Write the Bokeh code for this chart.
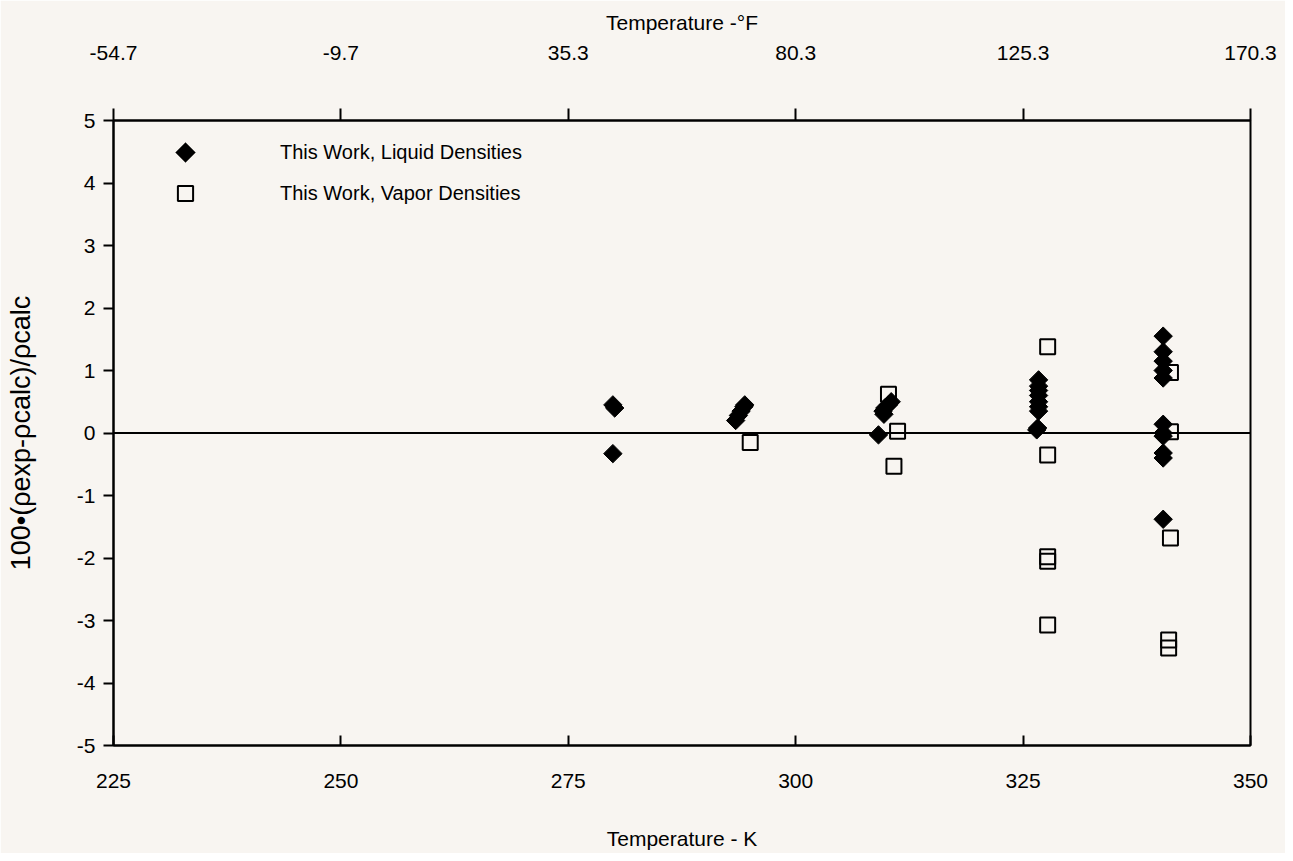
import math
from bokeh.plotting import figure
from bokeh.models import (LinearAxis, FixedTicker, Span, Legend, LegendItem, Range1d,
                          PolyAnnotation)
from bokeh.embed import file_html
from bokeh.resources import INLINE

# ---- data ----
liq_T = [279.9, 280.1, 279.9,
         293.4, 293.7, 294.0, 294.3, 294.4,
         309.1, 309.6, 309.7, 309.8, 310.2, 310.5,
         326.7, 326.7, 326.7, 326.7, 326.7, 326.7, 326.7, 326.6, 326.5,
         340.4, 340.4, 340.4, 340.4, 340.4, 340.4, 340.4, 340.4, 340.4, 340.4, 340.4]
liq_dev = [0.45, 0.40, -0.33,
           0.20, 0.28, 0.35, 0.42, 0.45,
           -0.03, 0.35, 0.30, 0.40, 0.45, 0.50,
           0.85, 0.75, 0.68, 0.60, 0.50, 0.42, 0.35, 0.08, 0.05,
           1.55, 1.30, 1.15, 1.00, 0.88, 0.14, 0.00, -0.05, -0.32, -0.40, -1.38]

vap_T = [295.0,
         310.2, 311.2, 310.8,
         327.7, 327.7, 327.7, 327.7, 327.7,
         341.2, 341.2, 341.2, 341.0, 341.0]
vap_dev = [-0.15,
           0.62, 0.03, -0.53,
           1.38, -0.35, -1.98, -2.05, -3.07,
           0.97, 0.02, -1.68, -3.31, -3.44]

k_ticks = [225, 250, 275, 300, 325, 350]
f_labels = ["-54.7", "-9.7", "35.3", "80.3", "125.3", "170.3"]
y_ticks = [-5, -4, -3, -2, -1, 0, 1, 2, 3, 4, 5]

FONT = "Liberation Sans"
FS = "21px"
BG = "#f8f5f1"

p = figure(width=1285, height=853, output_backend="svg", toolbar_location=None,
           x_range=Range1d(225, 350), y_range=Range1d(-5, 5),
           x_axis_location=None, y_axis_location=None,
           min_border_left=113, min_border_right=35, min_border_top=120, min_border_bottom=108)
p.background_fill_color = BG
p.border_fill_color = BG
p.outline_line_color = "black"
p.outline_line_width = 2
p.grid.visible = False

def style(ax, lab_size=FS):
    ax.major_label_text_font = FONT
    ax.major_label_text_font_size = FS
    ax.major_label_text_color = "black"
    ax.axis_label_text_font = FONT
    ax.axis_label_text_font_size = lab_size
    ax.axis_label_text_font_style = "normal"
    ax.axis_label_text_color = "black"
    ax.axis_line_color = "black"
    ax.axis_line_width = 2
    ax.major_tick_line_color = "black"
    ax.major_tick_line_width = 2
    ax.minor_tick_line_color = None

# bottom axis (K)
xb = LinearAxis(ticker=FixedTicker(ticks=k_ticks), axis_label="Temperature - K")
style(xb)
xb.major_tick_in = 10
xb.major_tick_out = 0
xb.major_label_standoff = 28
xb.axis_label_standoff = 36
xb.major_label_overrides = {t: str(t) for t in k_ticks}
p.add_layout(xb, "below")

# top axis (°F)
xt = LinearAxis(ticker=FixedTicker(ticks=k_ticks), axis_label="Temperature -°F")
style(xt)
xt.major_tick_in = 0
xt.major_tick_out = 12
xt.major_label_standoff = 49
xt.axis_label_standoff = 9
xt.major_label_overrides = {t: l for t, l in zip(k_ticks, f_labels)}
p.add_layout(xt, "above")

# left axis
yl = LinearAxis(ticker=FixedTicker(ticks=y_ticks), axis_label="100•(ρexp-ρcalc)/ρcalc")
style(yl, "27px")
yl.major_tick_in = 0
yl.major_tick_out = 10
yl.major_label_standoff = 8
yl.axis_label_standoff = 38
yl.major_label_overrides = {t: str(t) for t in y_ticks}
p.add_layout(yl, "left")

# zero line
p.add_layout(Span(location=0, dimension="width", line_color="black", line_width=2))

r_liq = p.scatter(liq_T, liq_dev, marker="square", angle=math.pi / 4, size=13,
                  fill_color="black", line_color="black", line_width=1)
r_vap = p.scatter(vap_T, vap_dev, marker="square", size=15,
                  fill_color=None, line_color="black", line_width=2)

# legend key for the liquid series (a filled diamond, drawn in screen units)
r_liq_key = p.scatter(x=[], y=[], marker="square", fill_alpha=0, line_alpha=0)
p.add_layout(PolyAnnotation(xs=[62, 72, 82, 72], ys=[593, 603, 593, 583],
                            xs_units="screen", ys_units="screen",
                            fill_color="black", fill_alpha=1.0,
                            line_color="black", line_width=1))

leg = Legend(items=[LegendItem(label="This Work, Liquid Densities", renderers=[r_liq_key]),
                    LegendItem(label="This Work, Vapor Densities", renderers=[r_vap])],
             location=(53, 533), margin=0, padding=0, spacing=3,
             glyph_width=38, glyph_height=38, label_height=38, label_standoff=76,
             label_text_font=FONT, label_text_font_size="20px", label_text_color="black",
             border_line_alpha=0, background_fill_alpha=0)
p.add_layout(leg)

open("out.html", "w").write(file_html(p, INLINE))
